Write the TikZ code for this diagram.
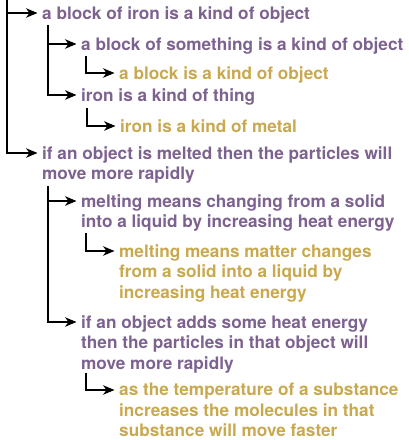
\documentclass[tikz,border=0pt]{standalone}
\usepackage{fontspec}
\setmainfont{TeX Gyre Heros}
\usetikzlibrary{arrows.meta,positioning}
\definecolor{stmtpurple}{HTML}{7D6290}
\definecolor{factgold}{HTML}{C9A94F}

\begin{document}
\begin{tikzpicture}[
    x=1pt, y=-1pt,
    stmt/.style={anchor=north west, align=left, inner sep=0pt, font=\bfseries\fontsize{17.2}{20.5}\selectfont},
    hyp/.style={stmt, text=stmtpurple},
    fact/.style={stmt, text=factgold},
    link/.style={line width=1.3pt, -{Stealth[length=11.5pt,width=9.5pt,inset=3.5pt]}, shorten >=4.5pt}
]
\useasboundingbox (0,0) rectangle (409,440);

% statements
\node[hyp] (n1) at (42,6) {a block of iron is a kind of object};
\node[hyp] (n11) at (81,37) {a block of something is a kind of object};
\node[fact] (n111) at (119,66) {a block is a kind of object};
\node[hyp] (n12) at (81,88) {iron is a kind of thing};
\node[fact] (n121) at (120,119) {iron is a kind of metal};
\node[hyp] (n2) at (42,146) {if an object is melted then the particles will\\move more rapidly};
\node[hyp] (n21) at (81,194) {melting means changing from a solid\\into a liquid by increasing heat energy};
\node[fact] (n211) at (119,244) {melting means matter changes\\from a solid into a liquid by\\increasing heat energy};
\node[hyp] (n22) at (81,315) {if an object adds some heat energy\\then the particles in that object will\\move more rapidly};
\node[fact] (n221) at (119,383) {as the temperature of a substance\\increases the molecules in that\\substance will move faster};

% branch tops
\coordinate (t0) at (7,0);
\coordinate (t1) at (48,25);
\coordinate (t11) at (86,56);
\coordinate (t12) at (87,108);
\coordinate (t2) at (48,186);
\coordinate (t21) at (86,233);
\coordinate (t22) at (86,373);

\draw[link] (t0) |- ([yshift=-7pt]n1.north west);
\draw[link] (t0) |- ([yshift=-7pt]n2.north west);
\draw[link] (t1) |- ([yshift=-7pt]n11.north west);
\draw[link] (t1) |- ([yshift=-7pt]n12.north west);
\draw[link] (t11) |- ([yshift=-7pt]n111.north west);
\draw[link] (t12) |- ([yshift=-7pt]n121.north west);
\draw[link] (t2) |- ([yshift=-7pt]n21.north west);
\draw[link] (t2) |- ([yshift=-7pt]n22.north west);
\draw[link] (t21) |- ([yshift=-7pt]n211.north west);
\draw[link] (t22) |- ([yshift=-7pt]n221.north west);
\end{tikzpicture}
\end{document}
